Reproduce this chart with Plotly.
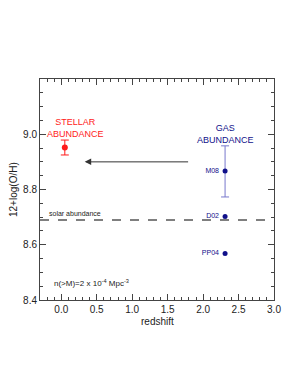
import plotly.graph_objects as go

stellar_z = [0.05]
stellar_oh = [8.952]
stellar_err = [0.027]

gas_z = [2.31, 2.31, 2.31]
gas_oh = [8.867, 8.702, 8.568]
gas_labels = ["M08", "D02", "PP04"]
gas_err_plus = [0.091, 0, 0]
gas_err_minus = [0.094, 0, 0]

solar_oh = 8.69
arrow_from = (1.81, 8.90)
arrow_to = (0.33, 8.90)

x_ticks = [0.0, 0.5, 1.0, 1.5, 2.0, 2.5, 3.0]
y_ticks = [8.4, 8.6, 8.8, 9.0]

font = "Liberation Sans, Arial, sans-serif"
red = "#ff1a1a"
navy = "#10108a"

fig = go.Figure()
fig.add_shape(type="line", xref="x", yref="y", x0=-0.3, x1=3.0, y0=solar_oh, y1=solar_oh,
              line=dict(color="#555555", width=1.5, dash="dash"))
fig.add_trace(go.Scatter(x=[gas_z[0]], y=[gas_oh[0]], mode="markers",
                         marker=dict(size=1, color=navy),
                         error_y=dict(type="data", array=[gas_err_plus[0]], arrayminus=[gas_err_minus[0]],
                                      color="#7777cc", thickness=1, width=4),
                         showlegend=False))
fig.add_trace(go.Scatter(x=gas_z, y=gas_oh, mode="markers+text", text=[t + " " for t in gas_labels],
                         textposition="middle left", textfont=dict(size=7, color=navy, family=font),
                         marker=dict(size=5, color=navy), showlegend=False))
fig.add_trace(go.Scatter(x=stellar_z, y=stellar_oh, mode="markers",
                         marker=dict(size=6, color=red),
                         error_y=dict(type="data", array=stellar_err, color=red, thickness=1, width=4),
                         showlegend=False))

fig.add_annotation(x=arrow_to[0], y=arrow_to[1], ax=arrow_from[0], ay=arrow_from[1],
                   xref="x", yref="y", axref="x", ayref="y", text="", showarrow=True,
                   arrowhead=2, arrowsize=1.3, arrowwidth=1, arrowcolor="#333333")
fig.add_annotation(x=0.2, y=9.022, xref="x", yref="y", text="STELLAR<br>ABUNDANCE", showarrow=False,
                   font=dict(size=9, color=red, family=font), align="center")
fig.add_annotation(x=2.31, y=9.0, xref="x", yref="y", text="GAS<br>ABUNDANCE", showarrow=False,
                   font=dict(size=9, color=navy, family=font), align="center")
fig.add_annotation(x=-0.2, y=solar_oh + 0.004, xref="x", yref="y", text="solar abundance",
                   showarrow=False, xanchor="left", yanchor="bottom",
                   font=dict(size=7, color="#222222", family=font))
fig.add_annotation(x=-0.13, y=8.462, xref="x", yref="y",
                   text="n(>M)=2 x 10<sup>-4</sup> Mpc<sup>-3</sup>",
                   showarrow=False, xanchor="left", yanchor="middle",
                   font=dict(size=8, color="#222222", family=font))
fig.add_annotation(x=0, y=0.5, xref="paper", yref="paper", xshift=-34, text="12+log(O/H)",
                   textangle=-90, showarrow=False, font=dict(size=10, color="#222222", family=font))
fig.add_annotation(x=0.5, y=0, xref="paper", yref="paper", yanchor="top", yshift=-14, text="redshift",
                   showarrow=False, font=dict(size=10, color="#222222", family=font))

axis_common = dict(showgrid=False, zeroline=False, showline=True, linecolor="#444444", linewidth=1,
                   mirror="allticks", ticks="inside", ticklen=6, tickcolor="#444444", automargin=False,
                   tickfont=dict(size=10, color="#222222", family=font))
fig.update_xaxes(range=[-0.3, 3.0], tickvals=x_ticks, ticktext=[f"{v:.1f}" for v in x_ticks],
                 minor=dict(dtick=0.1, tick0=0, ticks="inside", ticklen=3, tickcolor="#444444"),
                 **axis_common)
fig.update_yaxes(range=[8.4, 9.2], tickvals=y_ticks, ticktext=[f"{v:.1f}" for v in y_ticks],
                 minor=dict(dtick=0.05, tick0=8.4, ticks="inside", ticklen=3, tickcolor="#444444"),
                 **axis_common)
fig.update_layout(width=298, height=385, margin=dict(l=32, r=32, t=71, b=93),
                  plot_bgcolor="white", paper_bgcolor="white", showlegend=False)
fig.write_html("out.html")
